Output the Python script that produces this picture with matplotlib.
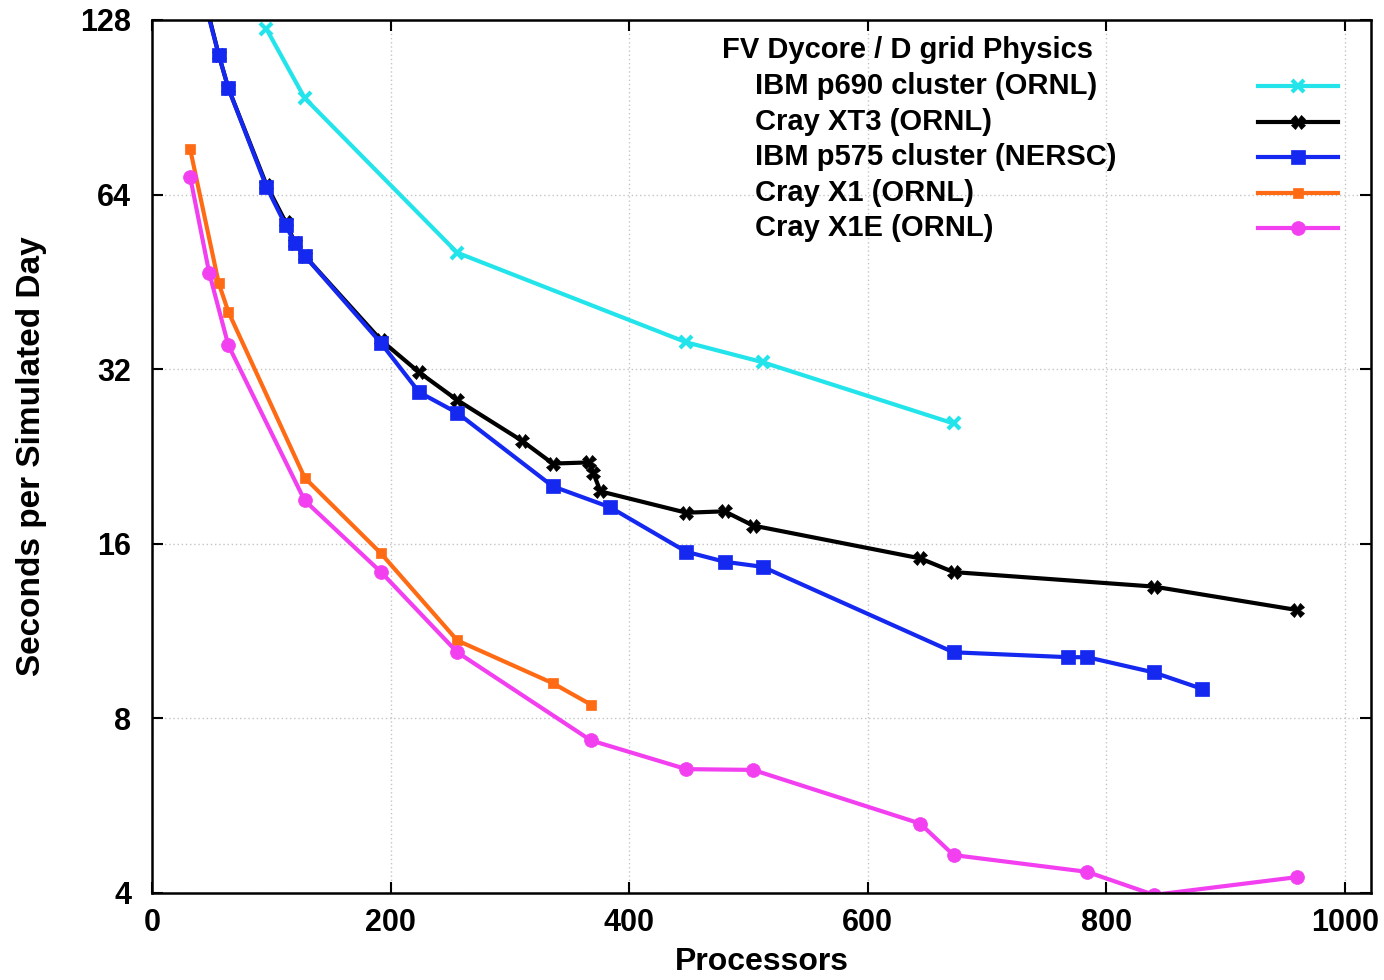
import matplotlib
matplotlib.use("Agg")
import matplotlib.pyplot as plt
from matplotlib.ticker import FixedLocator, FixedFormatter, NullLocator

plt.rcParams['font.family'] = ['Liberation Sans', 'DejaVu Sans']
plt.rcParams['font.weight'] = 'bold'

# --- data ---
p690_x = [96, 128, 256, 448, 512, 672]
p690_y = [123.5, 93.9, 50.8, 35.6, 32.9, 25.8]

xt3_x = [32, 56, 64, 96, 112, 120, 128, 192, 224, 256, 310, 336, 366, 370, 376,
         448, 480, 504, 644, 672, 840, 960]
xt3_y = [175, 111.4, 97.7, 66.5, 57.4, 52.8, 50.2, 35.9, 31.6, 28.3, 24.1, 22.0,
         22.1, 21.2, 19.7, 18.1, 18.2, 17.2, 15.1, 14.3, 13.5, 12.3]

p575_x = [32, 56, 64, 96, 112, 120, 128, 192, 224, 256, 336, 384, 448, 480, 512,
          672, 768, 784, 840, 880]
p575_y = [172, 111.4, 97.7, 66.0, 56.7, 52.8, 50.2, 35.5, 29.2, 26.9, 20.1, 18.5,
          15.5, 14.9, 14.6, 10.4, 10.2, 10.2, 9.6, 9.0]

x1_x = [32, 56, 64, 128, 192, 256, 336, 368]
x1_y = [76.7, 45.0, 40.2, 20.8, 15.4, 10.9, 9.2, 8.45]

x1e_x = [32, 48, 64, 128, 192, 256, 368, 448, 504, 644, 672, 784, 840, 960]
x1e_y = [68.7, 46.9, 35.2, 19.0, 14.3, 10.4, 7.33, 6.54, 6.52, 5.27, 4.65, 4.35,
         3.97, 4.26]

labels = ["IBM p690 cluster (ORNL)", "Cray XT3 (ORNL)", "IBM p575 cluster (NERSC)",
          "Cray X1 (ORNL)", "Cray X1E (ORNL)"]
y_ticks = [4, 8, 16, 32, 64, 128]
x_ticks = [0, 200, 400, 600, 800, 1000]

series = [
    (p690_x, p690_y, dict(color='#22e4ea', marker='x', ms=9, mew=3)),
    (xt3_x, xt3_y, dict(color='#000000', marker='X', ms=10, mew=0.5)),
    (p575_x, p575_y, dict(color='#1428f0', marker='s', ms=10, mew=0.5)),
    (x1_x, x1_y, dict(color='#ff6a14', marker='s', ms=6.5, mew=0.5)),
    (x1e_x, x1e_y, dict(color='#f23ff0', marker='o', ms=10, mew=0.5)),
]

fig = plt.figure(figsize=(13.84, 9.8), dpi=100)
ax = fig.add_axes([0.1098, 0.0888, 0.8808, 0.8908])

for xs, ys, st in series:
    ax.plot(xs, ys, lw=3, color=st['color'], marker=st['marker'],
            ms=st['ms'], mew=st['mew'], mec=st['color'], mfc=st['color'])

ax.set_yscale('log', base=2)
ax.set_xlim(0, 1022)
ax.set_ylim(4, 128)
ax.yaxis.set_major_locator(FixedLocator(y_ticks))
ax.yaxis.set_major_formatter(FixedFormatter([str(t) for t in y_ticks]))
ax.yaxis.set_minor_locator(NullLocator())
ax.set_xticks(x_ticks)

ax.grid(True, color='#c4c4c4', linestyle=(0, (1, 2)), linewidth=1)
ax.tick_params(direction='in', length=8, width=1.5, top=True, right=True,
               labelsize=22)
ax.tick_params(axis='x', pad=11)
ax.tick_params(axis='y', pad=15)
for sp in ax.spines.values():
    sp.set_linewidth(1.8)

ax.set_xlabel("Processors", fontsize=23, fontweight='bold', labelpad=6)
ax.set_ylabel("Seconds per Simulated Day", fontsize=24, fontweight='bold', labelpad=24)

# key: left-aligned texts, samples on the right
ax.text(0.4676, 0.966, "FV Dycore / D grid Physics", transform=ax.transAxes,
        fontsize=21, fontweight='bold', va='center', ha='left')
for i, ((xs, ys, st), lab) in enumerate(zip(series, labels)):
    yy = 0.9245 - i * 0.0408
    ax.text(0.4947, yy, lab, transform=ax.transAxes, fontsize=21,
            fontweight='bold', va='center', ha='left')
    ax.plot([0.9073, 0.9729], [yy, yy], transform=ax.transAxes, lw=3,
            color=st['color'], clip_on=False)
    ax.plot([0.9401], [yy], transform=ax.transAxes, color=st['color'],
            marker=st['marker'], ms=st['ms'], mew=st['mew'], mec=st['color'],
            mfc=st['color'], clip_on=False)

fig.savefig("out.png", dpi=100)
